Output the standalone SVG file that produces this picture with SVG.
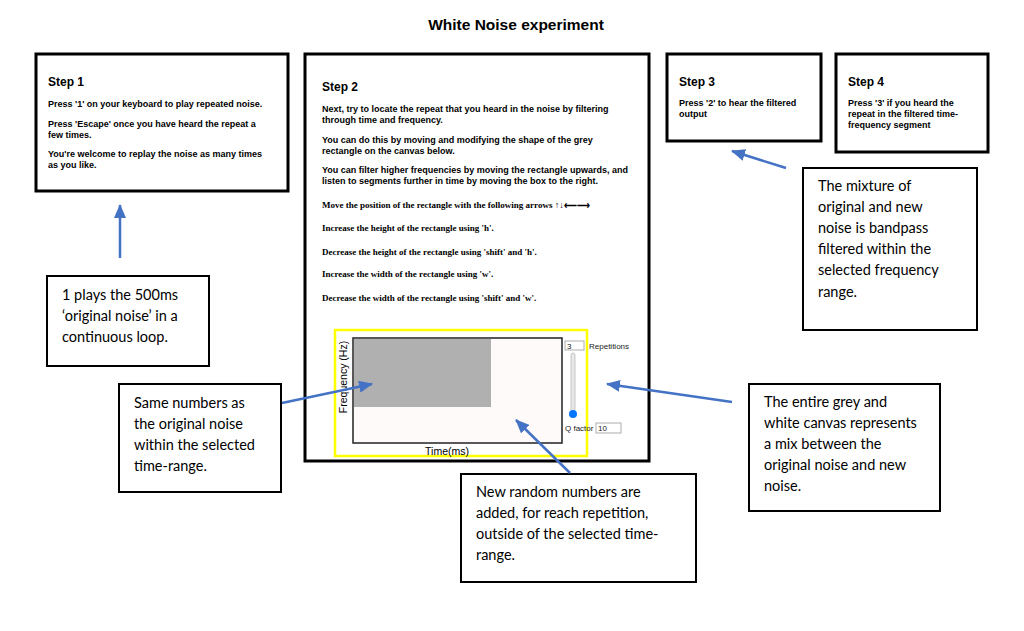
<svg xmlns="http://www.w3.org/2000/svg" width="1024" height="631" viewBox="0 0 1024 631">
<defs>
<marker id="ah" markerUnits="userSpaceOnUse" markerWidth="14" markerHeight="12" refX="13" refY="6" orient="auto">
<path d="M0,0 L14,6 L0,12 z" fill="#4472c4"/>
</marker>
<style>
.step{fill:#fff;stroke:#000;stroke-width:3}
.call{fill:#fff;stroke:#000;stroke-width:2}
.h{font-family:"Liberation Sans",Arial,sans-serif;font-weight:bold;font-size:12px;fill:#000}
.b{font-family:"Liberation Sans",Arial,sans-serif;font-weight:bold;font-size:9px;fill:#000}
.s{font-family:"Liberation Serif","Times New Roman",serif;font-weight:bold;font-size:9px;fill:#000}
.c{font-family:Lato,"Noto Sans",sans-serif;font-size:14.5px;fill:#000}
.u{font-family:"Liberation Sans",Arial,sans-serif;font-size:8px;fill:#222}
.conn{stroke:#4472c4;stroke-width:2.5;fill:none;marker-end:url(#ah)}
</style>
</defs>
<rect width="1024" height="631" fill="#fff"/>
<text x="516" y="30" text-anchor="middle" font-family="Liberation Sans,Arial,sans-serif" font-weight="bold" font-size="15.5">White Noise experiment</text>

<g id="step1">
<rect class="step" x="36" y="54" width="252" height="137"/>
<text class="h" x="48" y="86">Step 1</text>
<text class="b" x="48" y="107">Press '1' on your keyboard to play repeated noise.</text>
<text class="b" x="48" y="127">Press 'Escape' once you have heard the repeat a</text>
<text class="b" x="48" y="138">few times.</text>
<text class="b" x="48" y="157">You're welcome to replay the noise as many times</text>
<text class="b" x="48" y="168">as you like.</text>
</g>

<g id="step2">
<rect class="step" x="305" y="54" width="344" height="407"/>
<text class="h" x="322" y="91">Step 2</text>
<text class="b" x="322" y="112">Next, try to locate the repeat that you heard in the noise by filtering</text>
<text class="b" x="322" y="123">through time and frequency.</text>
<text class="b" x="322" y="143">You can do this by moving and modifying the shape of the grey</text>
<text class="b" x="322" y="154">rectangle on the canvas below.</text>
<text class="b" x="322" y="173">You can filter higher frequencies by moving the rectangle upwards, and</text>
<text class="b" x="322" y="184">listen to segments further in time by moving the box to the right.</text>
<text class="s" x="322" y="208">Move the position of the rectangle with the following arrows ↑↓⟵⟶</text>
<text class="s" x="322" y="231">Increase the height of the rectangle using 'h'.</text>
<text class="s" x="322" y="255">Decrease the height of the rectangle using 'shift' and 'h'.</text>
<text class="s" x="322" y="277">Increase the width of the rectangle using 'w'.</text>
<text class="s" x="322" y="301">Decrease the width of the rectangle using 'shift' and 'w'.</text>
</g>

<g id="canvas">
<rect x="335" y="330" width="252" height="126" fill="#fff" stroke="#ffff00" stroke-width="2.5"/>
<rect x="353" y="338" width="209" height="105" fill="#fffafa" stroke="#222" stroke-width="1.5"/>
<rect x="354" y="339" width="137" height="68" fill="#b0b0b0"/>
<text transform="translate(347,377) rotate(-90)" text-anchor="middle" font-family="Liberation Sans,Arial,sans-serif" font-size="10.5" fill="#000">Frequency (Hz)</text>
<text x="447" y="455" text-anchor="middle" font-family="Liberation Sans,Arial,sans-serif" font-size="10.5" fill="#000">Time(ms)</text>
<rect x="565" y="341" width="19" height="9" fill="#fff" stroke="#999" stroke-width="0.8"/>
<text class="u" x="567" y="349">3</text>
<text class="u" x="589" y="349">Repetitions</text>
<rect x="571" y="353" width="4" height="58" rx="2" fill="#e8e8e8" stroke="#bbb" stroke-width="0.8"/>
<circle cx="573" cy="414" r="4" fill="#0075ff"/>
<text class="u" x="565" y="431">Q factor</text>
<rect x="596" y="423" width="25" height="10" fill="#fff" stroke="#999" stroke-width="0.8"/>
<text class="u" x="598" y="431">10</text>
</g>

<g id="step3">
<rect class="step" x="667" y="54" width="154" height="87"/>
<text class="h" x="679" y="86">Step 3</text>
<text class="b" x="679" y="106">Press '2' to hear the filtered</text>
<text class="b" x="679" y="117">output</text>
</g>

<g id="step4">
<rect class="step" x="836" y="54" width="152" height="98"/>
<text class="h" x="848" y="86">Step 4</text>
<text class="b" x="848" y="106">Press '3' if you heard the</text>
<text class="b" x="848" y="117">repeat in the filtered time-</text>
<text class="b" x="848" y="128">frequency segment</text>
</g>

<g id="note-loop">
<rect class="call" x="47" y="276" width="162" height="90"/>
<text class="c" x="62" y="300">1 plays the 500ms</text>
<text class="c" x="62" y="321">‘original noise’ in a</text>
<text class="c" x="62" y="342">continuous loop.</text>
</g>

<g id="note-same">
<rect class="call" x="119" y="384" width="162" height="108"/>
<text class="c" x="134" y="408">Same numbers as</text>
<text class="c" x="134" y="429">the original noise</text>
<text class="c" x="134" y="450">within the selected</text>
<text class="c" x="134" y="471">time-range.</text>
</g>

<g id="note-new">
<rect class="call" x="461" y="474" width="235" height="108"/>
<text class="c" x="476" y="497">New random numbers are</text>
<text class="c" x="476" y="518">added, for reach repetition,</text>
<text class="c" x="476" y="539">outside of the selected time-</text>
<text class="c" x="476" y="560">range.</text>
</g>

<g id="note-mix">
<rect class="call" x="803" y="168" width="174" height="162"/>
<text class="c" x="818" y="191">The mixture of</text>
<text class="c" x="818" y="212">original and new</text>
<text class="c" x="818" y="233">noise is bandpass</text>
<text class="c" x="818" y="254">filtered within the</text>
<text class="c" x="818" y="275">selected frequency</text>
<text class="c" x="818" y="297">range.</text>
</g>

<g id="note-canvas">
<rect class="call" x="749" y="384" width="191" height="127"/>
<text class="c" x="764" y="407">The entire grey and</text>
<text class="c" x="764" y="428">white canvas represents</text>
<text class="c" x="764" y="449">a mix between the</text>
<text class="c" x="764" y="470">original noise and new</text>
<text class="c" x="764" y="491">noise.</text>
</g>

<g id="connectors">
<line class="conn" x1="120" y1="258" x2="120" y2="205"/>
<line class="conn" x1="282" y1="403" x2="372" y2="384"/>
<line class="conn" x1="570" y1="473" x2="516" y2="420"/>
<line class="conn" x1="732" y1="402" x2="607" y2="384"/>
<line class="conn" x1="786" y1="168" x2="732" y2="151"/>
</g>
</svg>
